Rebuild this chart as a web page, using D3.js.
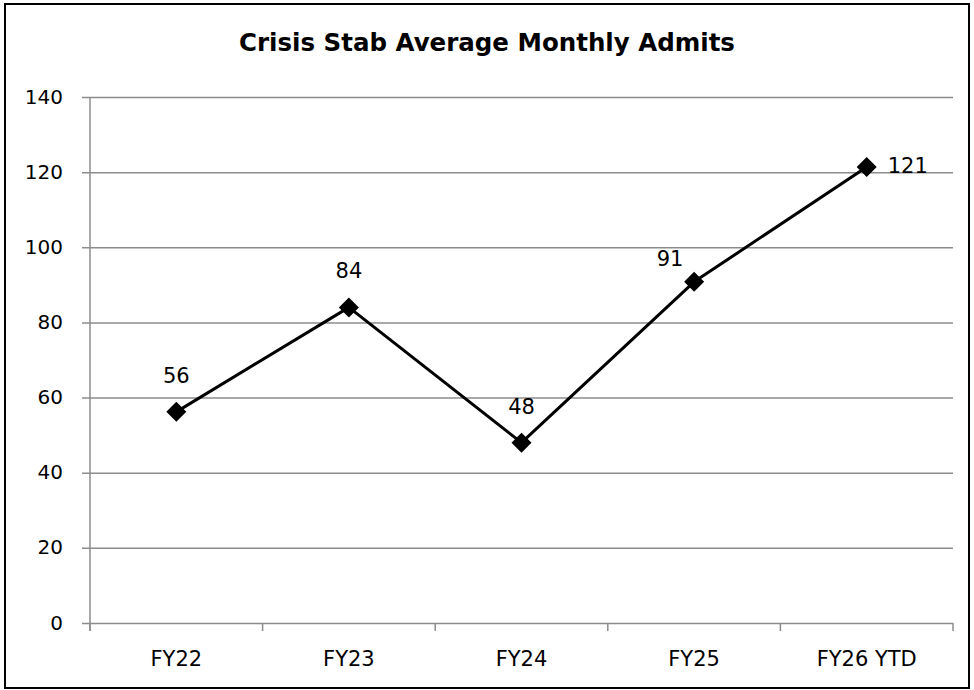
<!DOCTYPE html>
<html lang="en">
<head>
  <meta charset="UTF-8">
  <title>Crisis Stab Average Monthly Admits</title>
  <style>
    body { margin: 0; background: #fff; }
    svg text { font-family: "DejaVu Sans", sans-serif; fill: #000; }
  </style>
</head>
<body>
  <svg id="svg" width="974" height="690"></svg>

  <script src="https://d3js.org/d3.v7.min.js"></script>
  <script>
    const categories = ['FY22', 'FY23', 'FY24', 'FY25', 'FY26 YTD']
    const admits = [56.2, 84, 48, 90.8, 121.4]
    const labels = ['56', '84', '48', '91', '121']
    const yTicks = [0, 20, 40, 60, 80, 100, 120, 140]

    const margin = { top: 97, right: 21, bottom: 67, left: 90 }
    const width = 974 - margin.left - margin.right
    const height = 690 - margin.top - margin.bottom

    const svg = d3.select('#svg')

    // outer frame
    svg.append('rect')
      .attr('x', 5).attr('y', 4)
      .attr('width', 964).attr('height', 684)
      .attr('fill', 'none')
      .attr('stroke', '#000')
      .attr('stroke-width', 2)

    svg.append('text')
      .attr('x', 487).attr('y', 51)
      .attr('text-anchor', 'middle')
      .attr('font-size', 24.5)
      .attr('font-weight', 'bold')
      .text('Crisis Stab Average Monthly Admits')

    const xscale = d3.scaleBand()
      .domain(categories)
      .range([margin.left, margin.left + width])
      .padding(0)

    const yscale = d3.scaleLinear()
      .domain([0, 140])
      .range([margin.top + height, margin.top])

    const grey = '#8c8c8c'

    // gridlines + y labels
    const leftAxis = d3.axisLeft(yscale)
      .tickValues(yTicks)
      .tickSize(-(width + 8))
      .tickPadding(19)
    const yg = svg.append('g')
      .attr('transform', `translate(${margin.left - 8}, 0)`)
      .call(leftAxis)
    yg.select('.domain').remove()
    yg.selectAll('.tick line').attr('stroke', grey).attr('stroke-width', 1.5)
    yg.selectAll('.tick text')
      .attr('font-size', 20)
      .attr('font-family', '"DejaVu Sans", sans-serif')
      .attr('dy', '0.3em')
      .attr('fill', '#000')

    // y axis line
    svg.append('line')
      .attr('x1', margin.left).attr('x2', margin.left)
      .attr('y1', yscale(140)).attr('y2', yscale(0) + 8)
      .attr('stroke', grey).attr('stroke-width', 1.5)

    // x category boundary ticks
    const bounds = d3.range(categories.length + 1).map(i => margin.left + i * xscale.step())
    svg.append('g').selectAll('line')
      .data(bounds)
      .enter()
      .append('line')
      .attr('x1', d => d).attr('x2', d => d)
      .attr('y1', yscale(0)).attr('y2', yscale(0) + 8)
      .attr('stroke', grey).attr('stroke-width', 1.5)

    // x labels
    const bottomAxis = d3.axisBottom(xscale).tickSize(0)
    const xg = svg.append('g')
      .attr('transform', `translate(0, ${yscale(0)})`)
      .call(bottomAxis)
    xg.select('.domain').remove()
    xg.selectAll('.tick text')
      .attr('font-size', 21)
      .attr('font-family', '"DejaVu Sans", sans-serif')
      .attr('y', 43)
      .attr('dy', 0)
      .attr('fill', '#000')

    const cx = d => xscale(d) + xscale.bandwidth() / 2
    const pts = categories.map((c, i) => ({ cat: c, v: admits[i], label: labels[i] }))

    svg.append('path')
      .datum(pts)
      .attr('fill', 'none')
      .attr('stroke', '#000')
      .attr('stroke-width', 3)
      .attr('stroke-linejoin', 'round')
      .attr('d', d3.line().x(d => cx(d.cat)).y(d => yscale(d.v)))

    svg.append('g').selectAll('path')
      .data(pts)
      .enter()
      .append('path')
      .attr('d', d3.symbol(d3.symbolSquare, 200))
      .attr('transform', d => `translate(${cx(d.cat)}, ${yscale(d.v)}) rotate(45)`)
      .attr('fill', '#000')

    // data labels: above for the first four (91 sits left), right for the last
    svg.append('g').selectAll('text')
      .data(pts)
      .enter()
      .append('text')
      .attr('font-size', 21)
      .attr('text-anchor', (d, i) => i === 4 ? 'start' : 'middle')
      .attr('x', (d, i) => i === 4 ? cx(d.cat) + 21 : i === 3 ? cx(d.cat) - 24 : cx(d.cat))
      .attr('y', (d, i) => i === 4 ? yscale(d.v) + 6 : i === 3 ? yscale(d.v) - 16 : yscale(d.v) - 29)
      .text(d => d.label)
  </script>
</body>
</html>
